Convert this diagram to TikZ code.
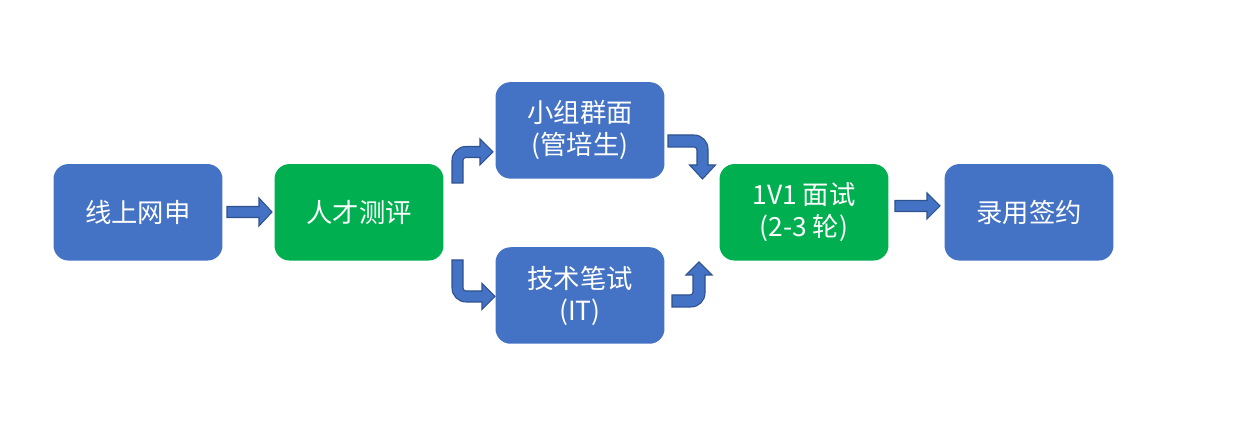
\documentclass[tikz,border=0pt]{standalone}
\usepackage{fontspec}
\setmainfont{Noto Sans CJK SC}
\definecolor{boxblue}{HTML}{4472C4}
\definecolor{boxgreen}{HTML}{00B050}
\definecolor{arrowedge}{HTML}{2F528F}
\begin{document}
\begin{tikzpicture}[x=0.02cm,y=0.02cm,
  stepbox/.style={rectangle, rounded corners=0.3cm, minimum width=3.38cm, minimum height=1.93cm,
    inner sep=0pt, text=white, align=center, font=\fontsize{15pt}{18.2pt}\selectfont},
  bluebox/.style={stepbox, fill=boxblue},
  greenbox/.style={stepbox, fill=boxgreen},
  blockarrow/.style={fill=boxblue, draw=arrowedge, line width=0.6pt, line join=miter}]
\useasboundingbox (0,0) rectangle (1235,438);
\fill[white] (0,0) rectangle (1235,438);

\node[bluebox]  (apply)  at (138,225.7) {线上网申};
\node[greenbox] (assess) at (359,225.7) {人才测评};
\node[bluebox]  (group)  at (580,307.6) {小组群面\\(管培生)};
\node[bluebox]  (written) at (580,142.5) {技术笔试\\(IT)};
\node[greenbox] (inter)  at (804,225.7) {1V1 面试\\(2-3 轮)};
\node[bluebox]  (sign)   at (1029,225.7) {录用签约};

% apply -> assess
\draw[blockarrow] (227,220.5) -- (259,220.5) -- (259,212) -- (272,226) -- (259,240) -- (259,231.5) -- (227,231.5) -- cycle;
% assess -> group (bent up)
\draw[blockarrow] (452,255) -- (452,277.5) arc[start angle=180,end angle=90,radius=14] -- (480,291.5) -- (480,299) -- (493,286) -- (480,273) -- (480,280.5) -- (466,280.5) arc[start angle=90,end angle=180,radius=3] -- (463,255) -- cycle;
% assess -> written (bent down)
\draw[blockarrow] (463,178) -- (452,178) -- (452,150) arc[start angle=180,end angle=270,radius=14] -- (482,136) -- (482,128.5) -- (495,141.5) -- (482,154.5) -- (482,147) -- (466,147) arc[start angle=270,end angle=180,radius=3] -- (463,150) -- cycle;
% group -> inter
\draw[blockarrow] (668,291) -- (668,303) -- (694,303) arc[start angle=90,end angle=0,radius=14] -- (708,273) -- (715.5,273) -- (702.5,259) -- (689.5,273) -- (697,273) -- (697,288) arc[start angle=0,end angle=90,radius=3] -- (694,291) -- cycle;
% written -> inter
\draw[blockarrow] (672,143) -- (672,131) -- (691,131) arc[start angle=270,end angle=360,radius=14] -- (705,163) -- (712,163) -- (699,176) -- (686,163) -- (693,163) -- (693,146) arc[start angle=0,end angle=-90,radius=3] -- (690,143) -- cycle;
% inter -> sign
\draw[blockarrow] (895,226.5) -- (927,226.5) -- (927,219) -- (940,232) -- (927,245) -- (927,237.5) -- (895,237.5) -- cycle;
\end{tikzpicture}
\end{document}
